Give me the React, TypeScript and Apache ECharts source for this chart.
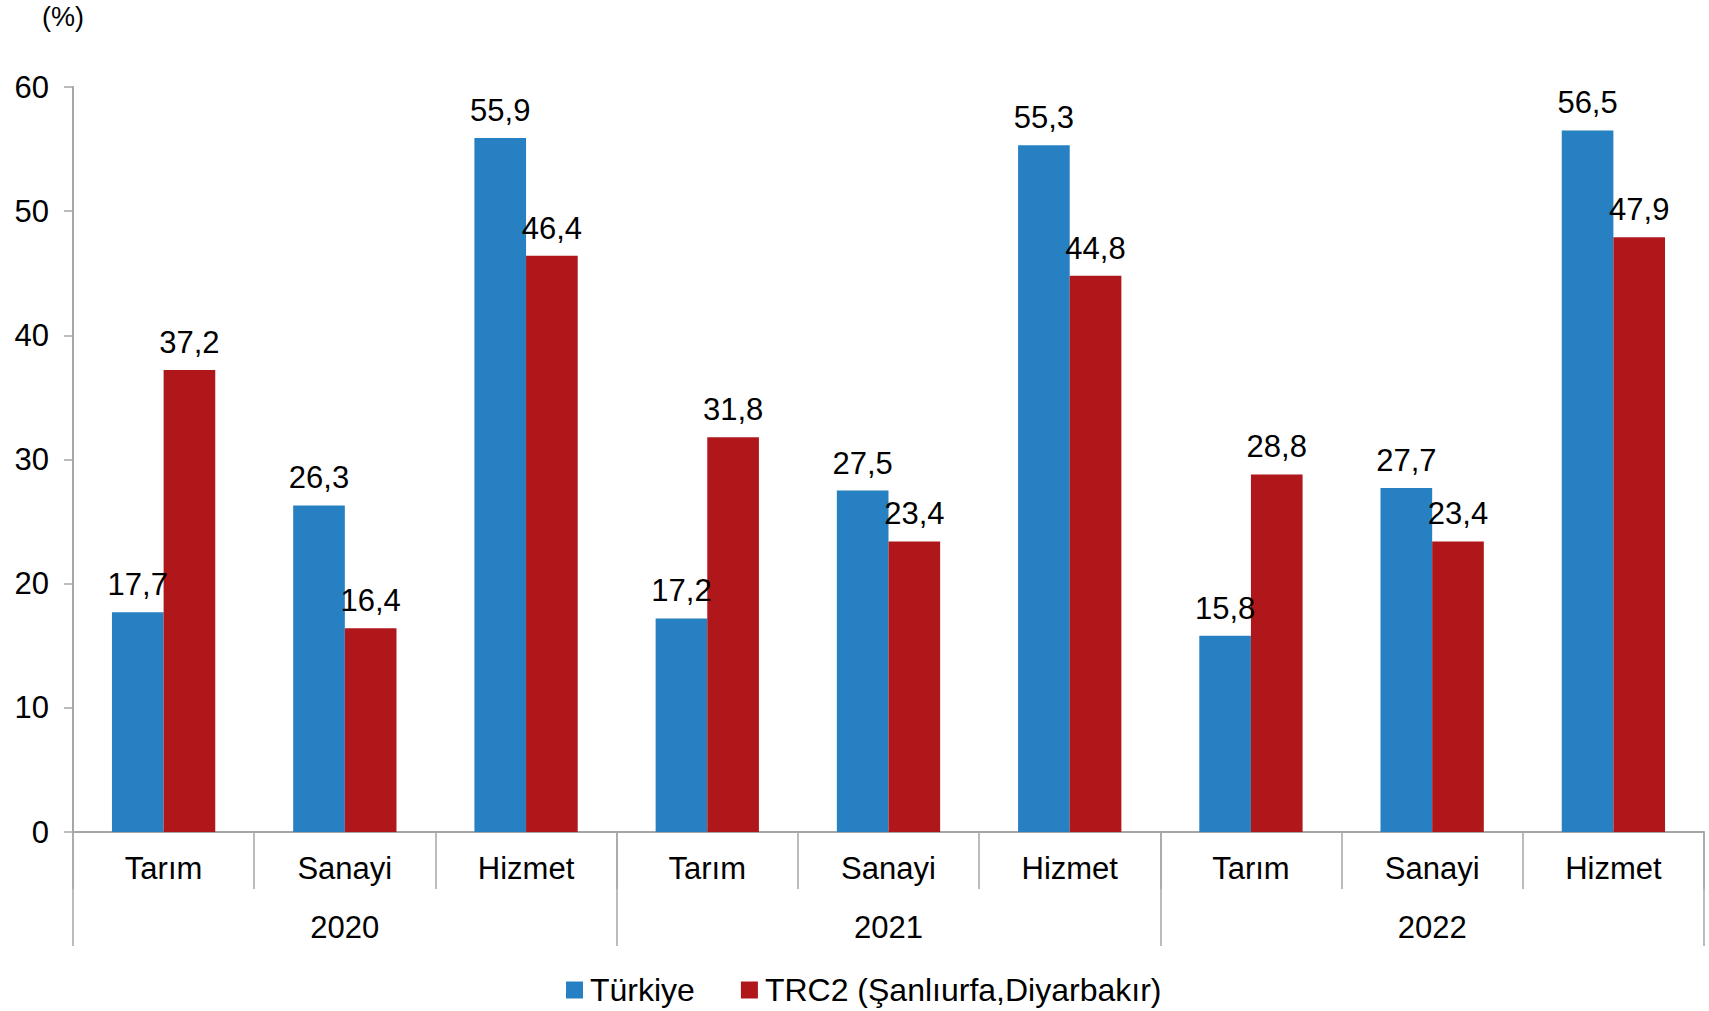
import React, { useEffect, useRef } from "react";
import * as echarts from "echarts";

const categories = ["Tarım", "Sanayi", "Hizmet", "Tarım", "Sanayi", "Hizmet", "Tarım", "Sanayi", "Hizmet"];
const years = ["2020", "2021", "2022"];
const turkiye = [17.7, 26.3, 55.9, 17.2, 27.5, 55.3, 15.8, 27.7, 56.5];
const trc2 = [37.2, 16.4, 46.4, 31.8, 23.4, 44.8, 28.8, 23.4, 47.9];
const seriesNames = ["Türkiye", "TRC2 (Şanlıurfa,Diyarbakır)"];
const yTicks = { min: 0, max: 60, interval: 10 };

const FONT = "Liberation Sans, Arial, sans-serif";
const AXIS_GREY = "#A6A6A6";

export default function App() {
  const ref = useRef<HTMLDivElement>(null);
  useEffect(() => {
    if (!ref.current) return;
    const chart = echarts.init(ref.current, undefined, { renderer: "svg" });
    const labelCfg = {
      show: true,
      position: "top",
      distance: 12,
      fontSize: 31,
      color: "#000",
      fontFamily: FONT,
      formatter: (p: any) => String(p.value).replace(".", ","),
    };
    chart.setOption({
      animation: false,
      textStyle: { fontFamily: FONT },
      title: {
        text: "(%)",
        left: 37,
        top: -2,
        textStyle: { fontSize: 27, fontWeight: "normal", color: "#000", fontFamily: FONT },
      },
      grid: { left: 73, right: 5, top: 87, bottom: 179, containLabel: false },
      legend: {
        left: 566,
        top: 973,
        padding: 0,
        itemWidth: 17,
        itemHeight: 17,
        itemGap: 46,
        icon: "rect",
        textStyle: { fontSize: 32, lineHeight: 34, color: "#000", fontFamily: FONT, padding: [0, 0, 0, 2] },
        data: seriesNames,
      },
      xAxis: [
        {
          type: "category",
          data: categories,
          position: "bottom",
          axisLine: { show: true, lineStyle: { color: AXIS_GREY, width: 2 } },
          axisTick: { show: true, interval: 0, length: 57, lineStyle: { color: AXIS_GREY, width: 1.5 } },
          axisLabel: { interval: 0, margin: 21, fontSize: 31, color: "#000", fontFamily: FONT },
        },
        {
          type: "category",
          data: years,
          position: "bottom",
          axisLine: { show: false },
          axisTick: { show: true, interval: 0, length: 114, lineStyle: { color: AXIS_GREY, width: 1.5 } },
          axisLabel: { interval: 0, margin: 80, fontSize: 31, color: "#000", fontFamily: FONT },
        },
      ],
      yAxis: {
        type: "value",
        min: yTicks.min,
        max: yTicks.max,
        interval: yTicks.interval,
        axisLine: { show: true, lineStyle: { color: AXIS_GREY, width: 2 } },
        axisTick: { show: true, length: 9, lineStyle: { color: AXIS_GREY, width: 1.5 } },
        splitLine: { show: false },
        axisLabel: { margin: 24, fontSize: 31, color: "#000", fontFamily: FONT },
      },
      series: [
        {
          name: seriesNames[0],
          type: "bar",
          data: turkiye,
          barGap: "0%",
          barCategoryGap: "43%",
          itemStyle: { color: "#2680C2" },
          label: labelCfg,
        },
        {
          name: seriesNames[1],
          type: "bar",
          data: trc2,
          barGap: "0%",
          barCategoryGap: "43%",
          itemStyle: { color: "#B0171A" },
          label: labelCfg,
        },
      ],
    });
    return () => chart.dispose();
  }, []);
  return <div ref={ref} style={{ width: 1709, height: 1011, position: "absolute", left: 0, top: 0 }} />;
}
